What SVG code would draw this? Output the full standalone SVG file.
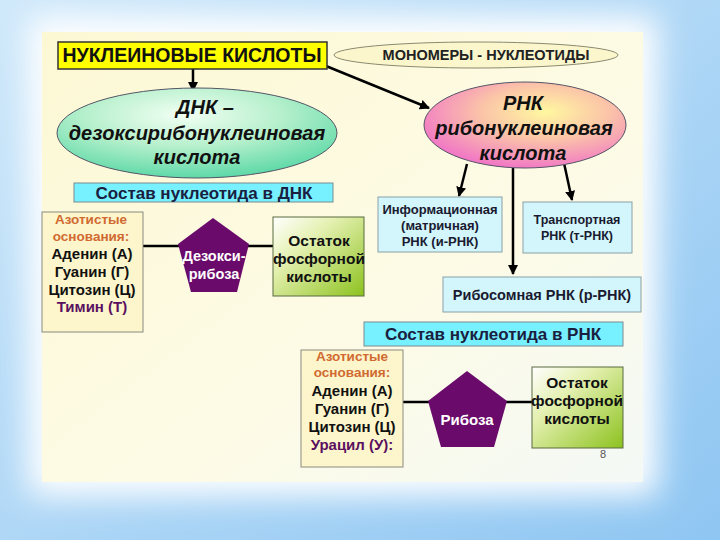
<svg xmlns="http://www.w3.org/2000/svg" width="720" height="540" viewBox="0 0 720 540">
<defs>
<linearGradient id="bg" x1="0" y1="0" x2="1" y2="1">
<stop offset="0" stop-color="#cfe8fa"/><stop offset="1" stop-color="#8fc6f2"/>
</linearGradient>
<filter id="glow" x="-20%" y="-20%" width="140%" height="140%"><feGaussianBlur stdDeviation="16"/></filter>
<linearGradient id="panel" x1="0" y1="0" x2="1" y2="1">
<stop offset="0" stop-color="#fcf8d4"/><stop offset="0.6" stop-color="#fdfbe6"/><stop offset="1" stop-color="#f4f9f6"/>
</linearGradient>
<radialGradient id="dna" cx="0.45" cy="0.3" r="0.7">
<stop offset="0" stop-color="#f2fff4"/><stop offset="0.5" stop-color="#b6f0cc"/><stop offset="1" stop-color="#5fd9a8"/>
</radialGradient>
<radialGradient id="rna" cx="0.6" cy="0.35" r="0.7">
<stop offset="0" stop-color="#fff8a0"/><stop offset="0.45" stop-color="#fbc4a8"/><stop offset="1" stop-color="#f070c8"/>
</radialGradient>
<linearGradient id="green" x1="0" y1="0" x2="1" y2="1">
<stop offset="0" stop-color="#ffffff"/><stop offset="0.35" stop-color="#e4f0b0"/><stop offset="1" stop-color="#8cc21e"/>
</linearGradient>
<marker id="arr" viewBox="0 0 10 10" refX="9" refY="5" markerWidth="4" markerHeight="4" orient="auto-start-reverse">
<path d="M0,0 L10,5 L0,10 z" fill="#000"/>
</marker>
<style>
text{font-family:"Liberation Sans",Arial,sans-serif;font-weight:bold;text-anchor:middle}
.it{font-style:italic;font-size:20px;fill:#111}
.hdr{fill:#77f0ff;stroke:#7a8a90;stroke-width:1}
.hdrt{font-size:17px;fill:#1a2040}
.sub{fill:#d2f6fc;stroke:#8aa0a8;stroke-width:1}
.subt{font-size:13px;fill:#1a1a30}
.base{fill:#fdf6cc;stroke:#8a8a80;stroke-width:1}
.az{font-size:13.5px;fill:#d06a30}
.bt{font-size:15px;fill:#111}
.pb{fill:#5a1060}
.pur{fill:#6a0a6a}
.grn{fill:url(#green);stroke:#5a6a40;stroke-width:1}
.gt{font-size:15.5px;fill:#111}
.pt{font-size:14.5px;fill:#fff}
.con{stroke:#000;stroke-width:2.5;fill:none}
</style>
</defs>
<rect width="720" height="540" fill="url(#bg)"/>
<rect x="28" y="16" width="630" height="480" fill="#fff" filter="url(#glow)"/>
<rect x="42" y="32" width="601" height="450" fill="url(#panel)"/>

<g id="connectors">
<line class="con" x1="193" y1="69" x2="193" y2="91" marker-end="url(#arr)"/>
<line class="con" x1="326" y1="66" x2="429" y2="108" marker-end="url(#arr)"/>
<line class="con" x1="467" y1="164" x2="459" y2="196" marker-end="url(#arr)"/>
<line class="con" x1="513" y1="168" x2="513" y2="274" marker-end="url(#arr)"/>
<line class="con" x1="564" y1="163" x2="572" y2="200" marker-end="url(#arr)"/>
<line class="con" x1="143" y1="246" x2="273" y2="246"/>
<line class="con" x1="403" y1="402" x2="532" y2="402"/>
</g>

<g id="title">
<rect x="58" y="42" width="269" height="27" fill="#ffff00" stroke="#333" stroke-width="1.5"/>
<text x="192" y="62" style="font-size:19.5px" fill="#111">НУКЛЕИНОВЫЕ КИСЛОТЫ</text>
</g>
<g id="monomers">
<ellipse cx="476" cy="55" rx="142" ry="13" fill="#fbf6cc" stroke="#8a8a70" stroke-width="1"/>
<text x="486" y="60" style="font-size:14.5px" fill="#222">МОНОМЕРЫ - НУКЛЕОТИДЫ</text>
</g>
<g id="dna-node">
<ellipse cx="197" cy="133" rx="140" ry="45" fill="url(#dna)" stroke="#556" stroke-width="1"/>
<text class="it" x="205" y="114">ДНК –</text>
<text class="it" x="197" y="140">дезоксирибонуклеиновая</text>
<text class="it" x="197" y="164">кислота</text>
</g>
<g id="rna-node">
<ellipse cx="525" cy="125" rx="101" ry="43" fill="url(#rna)" stroke="#556" stroke-width="1"/>
<text class="it" x="523" y="110">РНК</text>
<text class="it" x="524" y="135">рибонуклеиновая</text>
<text class="it" x="523" y="160">кислота</text>
</g>
<g id="dna-header">
<rect class="hdr" x="74" y="183" width="259" height="19"/>
<text class="hdrt" x="204" y="199">Состав нуклеотида в ДНК</text>
</g>
<g id="mrna">
<rect class="sub" x="378" y="197" width="124" height="55"/>
<text class="subt" x="440" y="214">Информационная</text>
<text class="subt" x="440" y="230">(матричная)</text>
<text class="subt" x="440" y="246">РНК (и-РНК)</text>
</g>
<g id="trna">
<rect class="sub" x="523" y="202" width="109" height="51"/>
<text class="subt" x="577" y="224" style="font-size:12.5px">Транспортная</text>
<text class="subt" x="577" y="240" style="font-size:12.5px">РНК (т-РНК)</text>
</g>
<g id="rrna">
<rect class="sub" x="443" y="277" width="198" height="35"/>
<text x="542" y="300" style="font-size:14.5px" fill="#1a1a30">Рибосомная РНК (р-РНК)</text>
</g>
<g id="dna-bases">
<rect class="base" x="42" y="212" width="101" height="120"/>
<text class="az" x="91" y="224">Азотистые</text>
<text class="az" x="91" y="241">основания:</text>
<text class="bt" x="92" y="259">Аденин (А)</text>
<text class="bt" x="92" y="277">Гуанин (Г)</text>
<text class="bt" x="92" y="295">Цитозин (Ц)</text>
<text class="bt pb" x="92" y="312">Тимин (Т)</text>
</g>
<g id="deoxyribose">
<polygon class="pur" points="213,218 249,244 237,292 191,292 178,244"/>
<text class="pt" x="214" y="261">Дезокси-</text>
<text class="pt" x="214" y="279">рибоза</text>
</g>
<g id="dna-phosphate">
<rect class="grn" x="273" y="217" width="91" height="79"/>
<text class="gt" x="319" y="246">Остаток</text>
<text class="gt" x="319" y="264">фосфорной</text>
<text class="gt" x="319" y="282">кислоты</text>
</g>
<g id="rna-header">
<rect class="hdr" x="364" y="322" width="259" height="24"/>
<text class="hdrt" x="493" y="340">Состав нуклеотида в РНК</text>
</g>
<g id="rna-bases">
<rect class="base" x="301" y="350" width="102" height="117"/>
<text class="az" x="352" y="361">Азотистые</text>
<text class="az" x="352" y="377">основания:</text>
<text class="bt" x="352" y="396">Аденин (А)</text>
<text class="bt" x="352" y="414">Гуанин (Г)</text>
<text class="bt" x="352" y="432">Цитозин (Ц)</text>
<text class="bt pb" x="352" y="450">Урацил (У):</text>
</g>
<g id="ribose">
<polygon class="pur" points="467,371 507,401 494,447 441,447 428,401"/>
<text class="pt" x="467" y="425" style="font-size:15px">Рибоза</text>
</g>
<g id="rna-phosphate">
<rect class="grn" x="532" y="367" width="91" height="81"/>
<text class="gt" x="577" y="388">Остаток</text>
<text class="gt" x="577" y="406">фосфорной</text>
<text class="gt" x="577" y="424">кислоты</text>
</g>
<text x="603" y="458" style="font-size:11px;font-weight:normal" fill="#555">8</text>
</svg>
